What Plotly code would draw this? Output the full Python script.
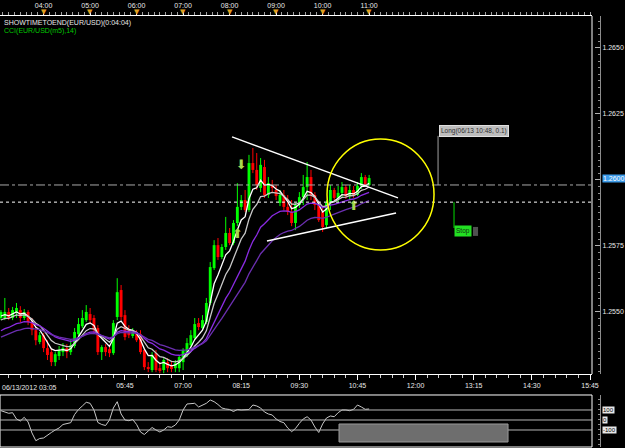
import pandas as pd
import plotly.graph_objects as go

# ---------------- data ----------------
bar_times = pd.date_range("2012-06-13 03:05", periods=96, freq="5min")

open_ = [1.25477, 1.25477, 1.25500, 1.25477, 1.25500, 1.25507, 1.25477, 1.25500, 1.25462, 1.25431,
         1.25386, 1.25412, 1.25363, 1.25348, 1.25310, 1.25333, 1.25348, 1.25363, 1.25348, 1.25371,
         1.25416, 1.25446, 1.25469, 1.25492, 1.25477, 1.25439, 1.25348, 1.25367, 1.25359, 1.25344,
         1.25481, 1.25583, 1.25488, 1.25431, 1.25409, 1.25420, 1.25416, 1.25356, 1.25291, 1.25280,
         1.25344, 1.25287, 1.25280, 1.25310, 1.25295, 1.25287, 1.25287, 1.25310, 1.25337, 1.25374,
         1.25401, 1.25458, 1.25439, 1.25462, 1.25534, 1.25666, 1.25753, 1.25708, 1.25746, 1.25799,
         1.25761, 1.25837, 1.25898, 1.25924, 1.25886, 1.26064, 1.26038, 1.25970, 1.26049, 1.25943,
         1.25981, 1.25962, 1.25913, 1.25943, 1.25898, 1.25879, 1.25837, 1.25905, 1.25935, 1.25973,
         1.26011, 1.25943, 1.25905, 1.25879, 1.25829, 1.25913, 1.25962, 1.25932, 1.25951, 1.25973,
         1.25939, 1.25962, 1.25943, 1.25977, 1.26011, 1.25981]
high = [1.25507, 1.25553, 1.25515, 1.25519, 1.25534, 1.25522, 1.25511, 1.25507, 1.25477, 1.25443,
        1.25424, 1.25420, 1.25393, 1.25363, 1.25348, 1.25371, 1.25382, 1.25378, 1.25393, 1.25439,
        1.25477, 1.25507, 1.25526, 1.25515, 1.25488, 1.25450, 1.25374, 1.25378, 1.25371, 1.25469,
        1.25628, 1.25602, 1.25507, 1.25450, 1.25439, 1.25431, 1.25431, 1.25363, 1.25310, 1.25348,
        1.25356, 1.25310, 1.25325, 1.25325, 1.25310, 1.25318, 1.25337, 1.25363, 1.25401, 1.25431,
        1.25477, 1.25477, 1.25488, 1.25553, 1.25689, 1.25772, 1.25780, 1.25757, 1.25860, 1.25818,
        1.25848, 1.25988, 1.25943, 1.25962, 1.26095, 1.26121, 1.26102, 1.26083, 1.26076, 1.26011,
        1.26000, 1.25981, 1.25962, 1.25962, 1.25943, 1.25924, 1.25913, 1.25954, 1.26019, 1.26068,
        1.26038, 1.25954, 1.25913, 1.25894, 1.25924, 1.25981, 1.25970, 1.25977, 1.25992, 1.25981,
        1.25981, 1.25977, 1.25992, 1.26026, 1.26019, 1.26019]
low = [1.25469, 1.25469, 1.25469, 1.25469, 1.25477, 1.25462, 1.25469, 1.25450, 1.25412, 1.25374,
       1.25378, 1.25348, 1.25318, 1.25295, 1.25295, 1.25318, 1.25333, 1.25325, 1.25337, 1.25363,
       1.25409, 1.25439, 1.25462, 1.25454, 1.25416, 1.25337, 1.25318, 1.25333, 1.25329, 1.25337,
       1.25469, 1.25469, 1.25393, 1.25401, 1.25401, 1.25386, 1.25340, 1.25280, 1.25272, 1.25272,
       1.25272, 1.25268, 1.25268, 1.25272, 1.25272, 1.25272, 1.25272, 1.25280, 1.25329, 1.25367,
       1.25393, 1.25431, 1.25431, 1.25454, 1.25526, 1.25659, 1.25697, 1.25700, 1.25735, 1.25753,
       1.25753, 1.25825, 1.25886, 1.25879, 1.25879, 1.26026, 1.25962, 1.25954, 1.25932, 1.25932,
       1.25954, 1.25924, 1.25901, 1.25886, 1.25867, 1.25825, 1.25810, 1.25894, 1.25905, 1.25924,
       1.25924, 1.25886, 1.25841, 1.25803, 1.25818, 1.25886, 1.25924, 1.25913, 1.25932, 1.25928,
       1.25924, 1.25932, 1.25939, 1.25966, 1.25977, 1.25977]
close = [1.25500, 1.25500, 1.25477, 1.25507, 1.25515, 1.25477, 1.25500, 1.25462, 1.25431, 1.25393,
         1.25412, 1.25363, 1.25337, 1.25310, 1.25340, 1.25356, 1.25363, 1.25348, 1.25374, 1.25424,
         1.25454, 1.25477, 1.25500, 1.25469, 1.25431, 1.25348, 1.25367, 1.25348, 1.25344, 1.25458,
         1.25575, 1.25481, 1.25405, 1.25412, 1.25424, 1.25393, 1.25348, 1.25291, 1.25284, 1.25337,
         1.25280, 1.25280, 1.25318, 1.25287, 1.25284, 1.25306, 1.25329, 1.25356, 1.25382, 1.25412,
         1.25454, 1.25443, 1.25469, 1.25534, 1.25670, 1.25753, 1.25708, 1.25746, 1.25799, 1.25761,
         1.25837, 1.25898, 1.25924, 1.25886, 1.26064, 1.26038, 1.25981, 1.26057, 1.25943, 1.25988,
         1.25970, 1.25939, 1.25943, 1.25898, 1.25879, 1.25837, 1.25905, 1.25935, 1.25973, 1.26011,
         1.25943, 1.25905, 1.25848, 1.25822, 1.25913, 1.25962, 1.25932, 1.25951, 1.25973, 1.25939,
         1.25962, 1.25943, 1.25977, 1.26011, 1.25981, 1.26007]

cci_values = [93, 80, 67, 73, 10, -10, 27, -20, -130, -207,
              -185, -180, -150, -125, -100, -80, -45, -35, -27, 55,
              105, 140, 177, 167, 100, -25, -45, -55, 0, 120,
              183, 60, 0, -7, 5, -45, -120, -145, -110, -75,
              -100, -120, -100, -67, -73, -50, 0, 100, 160, 167,
              167, 130, 150, 167, 200, 183, 155, 120, 110, 105,
              85, 105, 100, 100, 105, 150, 140, 120, 80, 60,
              50, 10, -15, -27, -80, -117, -85, -33, 10, 33,
              0, -70, -125, -40, 20, 40, 33, 73, 100, 100,
              93, 107, 150, 130, 107, 110]

# moving averages (period, value at first bar)
ma_periods = [5, 9, 17, 27]
ma_first_values = [1.25477, 1.25462, 1.25420, 1.25397]

# signal arrows
signal_times = ["2012-06-13 08:10", "2012-06-13 08:15", "2012-06-13 10:40"]
signal_prices = [1.25791, 1.26053, 1.25898]
signal_dirs = ["up", "down", "up"]

# axis ticks
price_ticks = [1.2550, 1.2575, 1.2600, 1.2625, 1.2650]
price_tick_text = ["1.2550", "1.2575", "1.2600", "1.2625", "1.2650"]
top_hours = ["04:00", "05:00", "06:00", "07:00", "08:00", "09:00", "10:00", "11:00"]
bottom_labels = ["04:30", "05:45", "07:00", "08:15", "09:30", "10:45", "12:00", "13:15", "14:30", "15:45"]
cci_levels = [100, 0, -100]

# chart objects (trend lines, circle, orders)
upper_line = (("2012-06-13 08:03:09", 1.26163), ("2012-06-13 11:37:15", 1.25932))
lower_line = (("2012-06-13 08:48:15", 1.25769), ("2012-06-13 11:34:45", 1.25875))
circle_box = (("2012-06-13 10:05:41", 1.25735), ("2012-06-13 12:23:45", 1.26155))
entry_price = 1.25981
stop_price = 1.25916
day = "2012-06-13 "


def ema(values, n, seed):
    a = 2.0 / (n + 1)
    out, e = [], seed
    for v in values:
        e = e + a * (v - e)
        out.append(e)
    return out


FONT = "Liberation Sans"
BODY_W = 3.7 * 60 * 1000  # candle body width in ms
fig = go.Figure()

# candles: wicks + bodies, split by direction
for up, col in ((True, "#00ff00"), (False, "#ff0000")):
    idx = [i for i in range(len(close)) if (close[i] >= open_[i]) == up]
    wx, wy = [], []
    for i in idx:
        wx += [bar_times[i], bar_times[i], None]
        wy += [low[i], high[i], None]
    fig.add_trace(go.Scatter(x=wx, y=wy, mode="lines", line=dict(color=col, width=1),
                             showlegend=False, hoverinfo="skip", xaxis="x", yaxis="y"))
    fig.add_trace(go.Bar(x=[bar_times[i] for i in idx],
                         base=[min(open_[i], close[i]) for i in idx],
                         y=[abs(close[i] - open_[i]) for i in idx],
                         width=BODY_W, marker=dict(color=col, line=dict(width=0)),
                         showlegend=False, hoverinfo="skip", xaxis="x", yaxis="y"))

ma_colors = ["#ffffff", "#c8c8c8", "#8a2be2", "#6b2fb0"]
for n, seed, col in zip(ma_periods, ma_first_values, ma_colors):
    fig.add_trace(go.Scatter(x=bar_times, y=ema(close, n, seed), mode="lines",
                             line=dict(color=col, width=1.3), showlegend=False,
                             hoverinfo="skip", xaxis="x", yaxis="y"))

fig.add_trace(go.Scatter(
    x=signal_times, y=signal_prices, mode="text",
    text=["⬆" if d == "up" else "⬇" for d in signal_dirs],
    textfont=dict(color="#a8d84e", size=13, family="DejaVu Sans"),
    showlegend=False, hoverinfo="skip", xaxis="x", yaxis="y"))

# anchor trace so the top time axis is drawn
fig.add_trace(go.Scatter(x=[bar_times[0]], y=[close[0]], mode="markers",
                         marker=dict(opacity=0), showlegend=False, hoverinfo="skip",
                         xaxis="x3", yaxis="y"))

fig.add_trace(go.Scatter(x=bar_times, y=cci_values, mode="lines",
                         line=dict(color="#c8c8c8", width=1), showlegend=False,
                         hoverinfo="skip", xaxis="x2", yaxis="y2"))

x_range = ["2012-06-13 03:03:45", "2012-06-13 15:47:35"]
main_dom = [0.16937, 1.0]
cci_dom = [0.0, 0.12065]
xdom = [0.0, 0.98667]
tickfont = dict(family=FONT, size=7, color="#e8e8e8")

fig.update_layout(
    width=625, height=448,
    margin=dict(l=0, r=25, t=16, b=1),
    paper_bgcolor="black", plot_bgcolor="black",
    showlegend=False, barmode="overlay",
    xaxis=dict(domain=xdom, range=x_range, type="date", anchor="y",
               showgrid=False, zeroline=False, showline=True, linecolor="white", linewidth=1,
               ticks="outside", ticklen=5, tickcolor="white",
               tickmode="array", tickvals=[day + t for t in bottom_labels],
               ticktext=[""] + bottom_labels[1:], tickfont=tickfont,
               minor=dict(ticks="outside", ticklen=3, tickcolor="#d0d0d0",
                          tick0="2012-06-13 03:00", dtick=900000)),
    xaxis3=dict(overlaying="x", matches="x", side="top", anchor="y", type="date",
                showgrid=False, zeroline=False, showline=True, linecolor="white", linewidth=1,
                ticks="outside", ticklen=4, tickcolor="white",
                tickmode="array", tickvals=[day + t for t in top_hours], ticktext=top_hours,
                tickfont=tickfont,
                minor=dict(ticks="outside", ticklen=3, tickcolor="#a0a0a0",
                           tick0="2012-06-13 03:00", dtick=450000)),
    xaxis2=dict(domain=xdom, matches="x", anchor="y2", type="date", showgrid=False,
                zeroline=False, showticklabels=False, showline=False, ticks=""),
    yaxis=dict(domain=main_dom, range=[1.25265, 1.26621], side="right", anchor="free",
               position=1.0, showgrid=False, zeroline=False, showline=True,
               linecolor="#8c8c8c", ticks="inside", ticklen=5, tickcolor="#b0b0b0",
               tickmode="array", tickvals=price_ticks, ticktext=price_tick_text,
               tickfont=tickfont,
               minor=dict(ticks="inside", ticklen=2, tickcolor="#8c8c8c", dtick=0.00025)),
    yaxis2=dict(domain=cci_dom, range=[-270, 250], side="right", anchor="free",
                position=1.0, showgrid=False, zeroline=False, showline=True,
                linecolor="#8c8c8c", ticks="inside", ticklen=2, tickcolor="#8c8c8c",
                dtick=50, showticklabels=False),
)

shapes = []
shapes.append(dict(type="line", xref="x domain", yref="y domain", x0=1, x1=1, y0=0, y1=1,
                   line=dict(color="white", width=1)))
shapes.append(dict(type="rect", xref="x2 domain", yref="y2 domain", x0=0, x1=1, y0=0, y1=1,
                   line=dict(color="white", width=1)))
for lv in cci_levels:
    shapes.append(dict(type="line", xref="x2 domain", yref="y2", x0=0, x1=1, y0=lv, y1=lv,
                       line=dict(color="#b8b8b8", width=1)))
shapes.append(dict(type="rect", xref="x2", yref="y2", x0=day + "10:21:09", x1=day + "13:59:15",
                   y0=-220, y1=-40, fillcolor="#6e6e6e", line=dict(color="#9a9a9a", width=1),
                   layer="above"))
shapes.append(dict(type="line", xref="x domain", yref="y", x0=0, x1=1, y0=entry_price,
                   y1=entry_price, line=dict(color="#a8a8a8", width=1, dash="dashdot")))
shapes.append(dict(type="line", xref="x domain", yref="y", x0=0, x1=1, y0=stop_price,
                   y1=stop_price, line=dict(color="white", width=1, dash="dot")))
for (p0, p1) in (upper_line, lower_line):
    shapes.append(dict(type="line", xref="x", yref="y", x0=p0[0], y0=p0[1], x1=p1[0], y1=p1[1],
                       line=dict(color="white", width=1.5)))
shapes.append(dict(type="circle", xref="x", yref="y", x0=circle_box[0][0], y0=circle_box[0][1],
                   x1=circle_box[1][0], y1=circle_box[1][1],
                   line=dict(color="#ffff00", width=1.5)))
shapes.append(dict(type="line", xref="x", yref="y", x0=day + "12:28:57", x1=day + "12:28:57",
                   y0=entry_price, y1=1.26167, line=dict(color="#a0a0a0", width=1)))
shapes.append(dict(type="line", xref="x", yref="y", x0=day + "12:49:33", x1=day + "12:49:33",
                   y0=stop_price, y1=1.25818, line=dict(color="#00dd00", width=1)))
shapes.append(dict(type="rect", xref="x", yref="y", x0=day + "13:14:03", x1=day + "13:20:33",
                   y0=1.25788, y1=1.25822, fillcolor="#505050", line=dict(width=0)))
fig.update_layout(shapes=shapes)

ann = []
ann.append(dict(xref="paper", yref="paper", x=0.0, y=(447 - 387) / 431, xanchor="left",
                yanchor="middle", text="06/13/2012 03:05", showarrow=False, font=tickfont))
ann.append(dict(xref="paper", yref="paper", x=0.004, y=(447 - 23) / 431, xanchor="left",
                yanchor="middle", text="SHOWTIMETOEND(EUR/USD)(0:04:04)", showarrow=False,
                font=dict(family=FONT, size=7, color="#e8e8e8")))
ann.append(dict(xref="paper", yref="paper", x=0.004, y=(447 - 31) / 431, xanchor="left",
                yanchor="middle", text="CCI(EUR/USD(m5),14)", showarrow=False,
                font=dict(family=FONT, size=7, color="#00c800")))
for h in top_hours:
    ann.append(dict(xref="x", yref="paper", x=day + h, y=(447 - 12) / 431, xanchor="center",
                    yanchor="middle", text="▼", showarrow=False,
                    font=dict(family="DejaVu Sans", size=7, color="#e0a020")))
ann.append(dict(xref="paper", yref="y", x=1.003, y=close[-1], xanchor="left", yanchor="middle",
                text="1.2600", showarrow=False, bgcolor="#3d9be9", borderpad=0,
                font=dict(family=FONT, size=7, color="white")))
for lv in cci_levels:
    ann.append(dict(xref="paper", yref="y2", x=1.003, y=lv, xanchor="left", yanchor="middle",
                    text=str(lv), showarrow=False, bgcolor="#e8e8e8", borderpad=0,
                    font=dict(family=FONT, size=6, color="black")))
ann.append(dict(xref="x", yref="y", x=day + "12:30:15", y=1.26186, xanchor="left",
                yanchor="middle", text="Long(06/13 10:48, 0.1)", showarrow=False,
                bgcolor="#bdbdbd", bordercolor="#e0e0e0", borderwidth=1, borderpad=1,
                font=dict(family=FONT, size=6.5, color="#303030")))
ann.append(dict(xref="x", yref="y", x=day + "12:49:33", y=1.25805, xanchor="left",
                yanchor="middle", text="Stop", showarrow=False,
                bgcolor="#22e022", borderpad=1,
                font=dict(family=FONT, size=6.5, color="#103010")))
fig.update_layout(annotations=ann)

fig.write_html("out.html")
